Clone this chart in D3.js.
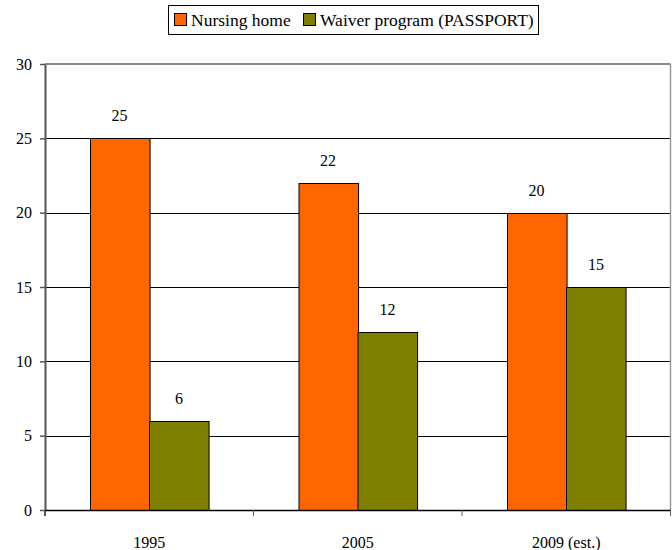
<!DOCTYPE html>
<html><head><meta charset="utf-8">
<script src="https://cdn.jsdelivr.net/npm/d3@7"></script>
<style>body{margin:0;background:#fff}svg{display:block}</style>
</head><body>
<svg id="c" width="672" height="550"></svg>
<script>
const categories = ["1995", "2005", "2009 (est.)"];
const seriesNames = ["Nursing home", "Waiver program (PASSPORT)"];
const nursingHome = [25, 22, 20];
const waiver = [6, 12, 15];
const yTicks = [0, 5, 10, 15, 20, 25, 30];
const colors = ["#FF6600", "#808000"];
const FONT = "'Liberation Serif', 'Times New Roman', serif";

const svg = d3.select("#c");
const L = 45, R = 670.5, T = 64, B = 510;
const x = d3.scaleBand().domain(categories).range([L, R]).paddingInner(0).paddingOuter(0);
const x1 = d3.scaleBand().domain([0, 1]).range([0, x.bandwidth()]).paddingOuter(0.75).paddingInner(0);
const y = d3.scaleLinear().domain([0, 30]).range([B, T]);

// gridlines
svg.append("g").selectAll("line").data(yTicks.filter(d => d > 0 && d < 30)).join("line")
  .attr("x1", L).attr("x2", R).attr("y1", d => Math.round(y(d)) + 0.5).attr("y2", d => Math.round(y(d)) + 0.5)
  .attr("stroke", "#000").attr("stroke-width", 1);
// top & right border
svg.append("line").attr("x1", L).attr("x2", R).attr("y1", T).attr("y2", T).attr("stroke", "#888").attr("stroke-width", 2);
svg.append("line").attr("x1", R).attr("x2", R).attr("y1", T).attr("y2", B).attr("stroke", "#999").attr("stroke-width", 1.5);

// bars
const data = categories.map((c, i) => ({c, v: [nursingHome[i], waiver[i]]}));
const g = svg.append("g").selectAll("g").data(data).join("g").attr("transform", d => `translate(${x(d.c)},0)`);
g.selectAll("rect").data(d => d.v.map((v, k) => ({v, k}))).join("rect")
  .attr("x", d => Math.round(x1(d.k)) + 0.5).attr("width", x1.bandwidth())
  .attr("y", d => Math.round(y(d.v)) + 0.5).attr("height", d => B - Math.round(y(d.v)))
  .attr("fill", d => colors[d.k]).attr("stroke", "#000").attr("stroke-width", 1);
g.selectAll("text").data(d => d.v.map((v, k) => ({v, k}))).join("text")
  .attr("x", d => x1(d.k) + x1.bandwidth() / 2).attr("y", d => y(d.v) - 17)
  .attr("text-anchor", "middle").style("font-family", FONT).style("font-size", "16px").style("fill", "#000").text(d => d.v);

// y axis
const ya = svg.append("g").attr("transform", `translate(${L},0)`)
  .call(d3.axisLeft(y).tickValues(yTicks).tickSize(5).tickSizeOuter(0).tickPadding(8));
ya.select(".domain").attr("stroke", "#555").attr("stroke-width", 2);
ya.selectAll(".tick line").attr("stroke", "#555").attr("stroke-width", 1.5);
ya.selectAll(".tick text").style("font-size", "16px").style("font-family", FONT).style("fill", "#000");
svg.append("line").attr("x1", L).attr("x2", L).attr("y1", B).attr("y2", B + 6).attr("stroke", "#555").attr("stroke-width", 2);

// x axis
const xa = svg.append("g").attr("transform", `translate(0,${B})`)
  .call(d3.axisBottom(x).tickSize(0).tickSizeOuter(0).tickPadding(27));
xa.select(".domain").attr("stroke", "#000").attr("stroke-width", 1.5);
xa.selectAll(".tick text").style("font-size", "16px").style("font-family", FONT).style("fill", "#000");
svg.append("g").selectAll("line").data(categories.slice(1).map(c => x(c)).concat([R])).join("line")
  .attr("x1", d => d).attr("x2", d => d).attr("y1", B).attr("y2", B + 6).attr("stroke", "#555").attr("stroke-width", 1);

// legend
const lg = svg.append("g");
lg.append("rect").attr("x", 168.5).attr("y", 5.5).attr("width", 370).attr("height", 29).attr("fill", "#fff").attr("stroke", "#000").attr("stroke-width", 1);
const items = [{n: seriesNames[0], x: 174}, {n: seriesNames[1], x: 303}];
items.forEach((it, k) => {
  lg.append("rect").attr("x", it.x + 0.5).attr("y", 13.5).attr("width", 12).attr("height", 12)
    .attr("fill", colors[k]).attr("stroke", "#000").attr("stroke-width", 1);
  lg.append("text").attr("x", it.x + 17).attr("y", 26).style("font-family", FONT).style("font-size", "17.5px").style("fill", "#000").text(it.n);
});
</script>
</body></html>
